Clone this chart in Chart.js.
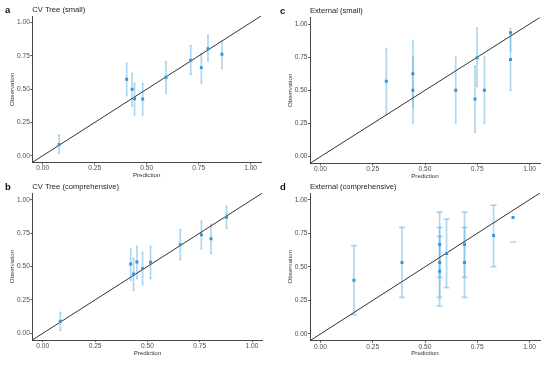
<!DOCTYPE html>
<html><head><meta charset="utf-8">
<script src="https://cdn.jsdelivr.net/npm/chart.js@4"></script>
<style>
html,body{margin:0;padding:0;background:#fff;width:550px;height:366px;overflow:hidden}
.p{position:absolute;width:275px;height:183px}
canvas{display:block}
</style></head><body>
<div class="p" style="left:0;top:0"><canvas id="ca" width="275" height="183"></canvas></div>
<div class="p" style="left:275px;top:0"><canvas id="cc" width="275" height="183"></canvas></div>
<div class="p" style="left:0;top:183px"><canvas id="cb" width="275" height="183"></canvas></div>
<div class="p" style="left:275px;top:183px"><canvas id="cd" width="275" height="183"></canvas></div>
<script>
// ---- data ----
const axisLimits = [-0.05, 1.05];
const tickValues = [0, 0.25, 0.5, 0.75, 1];
const xTitle = "Prediction";
const yTitle = "Observation";

// a: CV Tree (small)
const predA = [0.079, 0.404, 0.430, 0.442, 0.481, 0.593, 0.712, 0.763, 0.795, 0.862];
const obsA  = [0.085, 0.574, 0.499, 0.428, 0.426, 0.589, 0.717, 0.662, 0.804, 0.762];
const lowA  = [0.018, 0.451, 0.373, 0.306, 0.306, 0.469, 0.611, 0.544, 0.712, 0.657];
const highA = [0.155, 0.694, 0.619, 0.544, 0.544, 0.707, 0.827, 0.769, 0.905, 0.860];

// b: CV Tree (comprehensive)
const predB = [0.084, 0.420, 0.434, 0.450, 0.477, 0.515, 0.657, 0.758, 0.804, 0.878];
const obsB  = [0.090, 0.519, 0.444, 0.534, 0.484, 0.531, 0.663, 0.738, 0.708, 0.868];
const lowB  = [0.022, 0.397, 0.322, 0.409, 0.365, 0.409, 0.549, 0.633, 0.596, 0.785];
const highB = [0.157, 0.633, 0.559, 0.651, 0.606, 0.651, 0.776, 0.840, 0.815, 0.950];

// c: External (small)
const predC = [0.315, 0.442, 0.442, 0.647, 0.739, 0.749, 0.784, 0.909, 0.909];
const obsC  = [0.568, 0.625, 0.500, 0.500, 0.435, 0.745, 0.500, 0.935, 0.733];
const lowC  = [0.319, 0.250, 0.375, 0.250, 0.185, 0.530, 0.250, 0.800, 0.500];
const highC = [0.817, 0.875, 0.750, 0.750, 0.685, 0.970, 0.750, 0.967, 0.900];

// d: External (comprehensive)  (null = upper limit outside the plot)
const predD = [0.160, 0.390, 0.570, 0.570, 0.570, 0.603, 0.689, 0.689, 0.828, 0.921];
const obsD  = [0.400, 0.533, 0.667, 0.533, 0.467, 0.600, 0.667, 0.533, 0.733, 0.867];
const lowD  = [0.144, 0.273, 0.422, 0.273, 0.208, 0.345, 0.422, 0.273, 0.501, 0.685];
const highD = [0.658, 0.794, 0.908, 0.794, 0.727, 0.856, 0.908, 0.794, 0.960, null];

// ---- plugins ----
const errorBarPlugin = {
  id: 'errorBars',
  beforeDatasetsDraw(chart, args, opts) {
    const {ctx, chartArea, scales} = chart;
    const xs = scales.x, ys = scales.y;
    const pts = chart.data.datasets[1].data;
    ctx.save();
    ctx.beginPath();
    ctx.rect(chartArea.left, chartArea.top, chartArea.right - chartArea.left, chartArea.bottom - chartArea.top);
    ctx.clip();
    ctx.strokeStyle = opts.color;
    ctx.lineWidth = opts.width;
    pts.forEach((p, i) => {
      const lo = opts.low[i], hi = opts.high[i];
      const px = xs.getPixelForValue(p.x);
      const cap = opts.cap;
      if (lo != null && hi != null) {
        const y1 = ys.getPixelForValue(lo), y2 = ys.getPixelForValue(hi);
        ctx.beginPath(); ctx.moveTo(px, y1); ctx.lineTo(px, y2); ctx.stroke();
        if (cap > 0) {
          ctx.beginPath(); ctx.moveTo(px - cap, y1); ctx.lineTo(px + cap, y1); ctx.stroke();
          ctx.beginPath(); ctx.moveTo(px - cap, y2); ctx.lineTo(px + cap, y2); ctx.stroke();
        }
      } else if (lo != null) {
        const y1 = ys.getPixelForValue(lo);
        const c = Math.max(cap, 3);
        ctx.beginPath(); ctx.moveTo(px - c, y1); ctx.lineTo(px + c, y1); ctx.stroke();
      }
    });
    ctx.restore();
  }
};
const labelPlugin = {
  id: 'panelLabels',
  afterDraw(chart, args, opts) {
    const {ctx, chartArea} = chart;
    ctx.save();
    ctx.textBaseline = 'middle';
    ctx.textAlign = 'left';
    ctx.fillStyle = '#111';
    ctx.font = 'bold 9.5px "Liberation Sans", Arial, sans-serif';
    ctx.fillText(opts.letter, 5, chartArea.top - 6);
    ctx.fillStyle = '#222';
    ctx.font = '7.6px "Liberation Sans", Arial, sans-serif';
    ctx.fillText(opts.title, chartArea.left, chartArea.top - 6);
    ctx.restore();
  }
};

function makePanel(id, letter, title, pred, obs, low, high, area, yPad, cap) {
  const W = 275, H = 183;
  const tickFont = {family: '"Liberation Sans", Arial, sans-serif', size: 6.6, lineHeight: 1.1};
  const titleFont = {family: '"Liberation Sans", Arial, sans-serif', size: 6.2, lineHeight: 1.1};
  const axisCommon = {
    type: 'linear', min: axisLimits[0], max: axisLimits[1],
    afterBuildTicks: s => { s.ticks = tickValues.map(v => ({value: v})); },
    grid: {display: true, drawOnChartArea: false, drawTicks: true, tickLength: 2, color: '#333', lineWidth: 0.8},
    border: {display: true, color: '#333', width: 0.9},
    ticks: {autoSkip: false, maxRotation: 0, padding: 0.5, color: '#4d4d4d', font: tickFont,
            callback: v => Number(v).toFixed(2)}
  };
  new Chart(document.getElementById(id), {
    type: 'scatter',
    data: {
      datasets: [
        {type: 'line', data: axisLimits.map(v => ({x: v, y: v})), borderColor: '#333', borderWidth: 1,
         pointRadius: 0, fill: false, order: 2},
        {data: pred.map((x, i) => ({x, y: obs[i]})), pointStyle: 'rect', pointRadius: 2.1,
         backgroundColor: '#3596d4', borderColor: '#3596d4', borderWidth: 0, order: 1}
      ]
    },
    options: {
      responsive: false, animation: false, devicePixelRatio: 1,
      layout: {padding: {left: 0, top: area.t, right: W - area.r, bottom: 0}},
      plugins: {
        legend: {display: false}, tooltip: {enabled: false},
        errorBars: {low, high, cap, color: 'rgba(110,183,228,0.55)', width: 1.7},
        panelLabels: {letter, title}
      },
      scales: {
        x: Object.assign({}, axisCommon, {
          position: 'bottom',
          afterFit: s => { s.height = H - area.b; },
          title: {display: true, text: xTitle, color: '#333', font: titleFont,
                  padding: {top: 0, bottom: H - 3.4 - area.b - 12.8}}
        }),
        y: Object.assign({}, axisCommon, {
          position: 'left',
          afterFit: s => { s.width = area.l; },
          title: {display: true, text: yTitle, color: '#333', font: titleFont, padding: {top: yPad + 0.5, bottom: 0}}
        })
      }
    },
    plugins: [errorBarPlugin, labelPlugin]
  });
}

makePanel('ca', 'a', 'CV Tree (small)', predA, obsA, lowA, highA, {l: 32.3, r: 261, t: 16, b: 162.4}, 8.4, 0.8);
makePanel('cb', 'b', 'CV Tree (comprehensive)', predB, obsB, lowB, highB, {l: 32.3, r: 262.5, t: 10, b: 157}, 8.2, 0.8);
makePanel('cc', 'c', 'External (small)', predC, obsC, lowC, highC, {l: 35, r: 265, t: 17.4, b: 163.3}, 11.2, 0.8);
makePanel('cd', 'd', 'External (comprehensive)', predD, obsD, lowD, highD, {l: 35, r: 265, t: 10, b: 157.7}, 11.2, 3);
</script>
</body></html>
